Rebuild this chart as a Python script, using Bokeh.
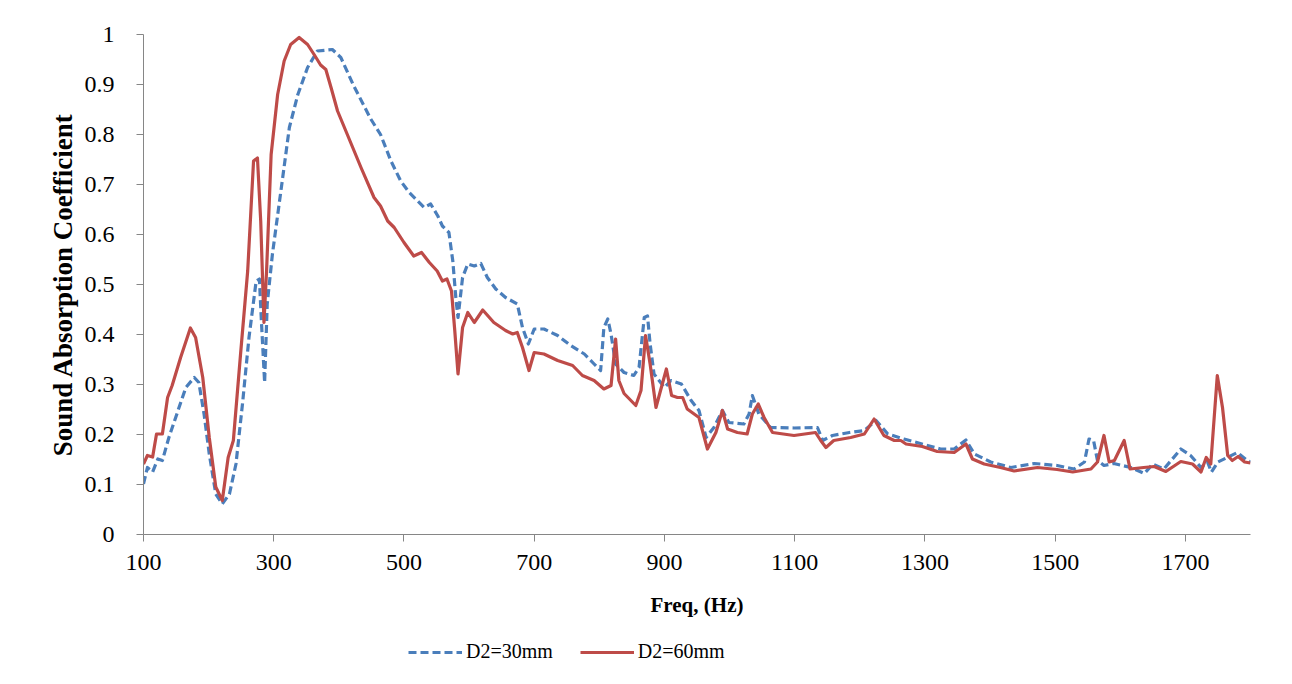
from bokeh.plotting import figure
from bokeh.layouts import column
from bokeh.models import Legend, LegendItem, FixedTicker, CustomJSTickFormatter, Range1d
from bokeh.embed import file_html
from bokeh.resources import INLINE

# ---- data ----
freq_30 = [100, 106, 114, 122, 129, 139, 152, 165, 178, 185,
           193, 201, 211, 221, 232, 242, 252, 262, 273, 278,
           281, 286, 290, 298, 311, 324, 337, 352, 367, 390,
           403, 423, 449, 464, 480, 495, 508, 521, 531, 541,
           552, 559, 569, 575, 580, 583, 590, 598, 608, 618,
           628, 641, 656, 674, 682, 691, 700, 715, 736, 756,
           777, 792, 802, 807, 813, 818, 825, 838, 853, 861,
           869, 874, 878, 884, 900, 910, 926, 941, 953, 964,
           976, 989, 999, 1022, 1030, 1035, 1045, 1063, 1099, 1135,
           1143, 1158, 1184, 1207, 1225, 1243, 1268, 1304, 1324, 1345,
           1363, 1376, 1401, 1432, 1468, 1503, 1529, 1545, 1552, 1559,
           1565, 1575, 1590, 1616, 1637, 1650, 1667, 1693, 1708, 1724,
           1734, 1740, 1750, 1780, 1795, 1800]
alpha_30 = [0.101, 0.134, 0.125, 0.151, 0.148, 0.194, 0.244, 0.294, 0.314, 0.304,
            0.241, 0.161, 0.081, 0.061, 0.081, 0.141, 0.261, 0.394, 0.507, 0.511,
            0.428, 0.304, 0.461, 0.561, 0.687, 0.814, 0.880, 0.934, 0.967, 0.970,
            0.954, 0.897, 0.831, 0.800, 0.747, 0.707, 0.684, 0.667, 0.654, 0.661,
            0.637, 0.617, 0.604, 0.547, 0.468, 0.434, 0.514, 0.541, 0.537, 0.542,
            0.514, 0.491, 0.474, 0.461, 0.414, 0.381, 0.411, 0.411, 0.398, 0.378,
            0.361, 0.341, 0.328, 0.414, 0.431, 0.401, 0.341, 0.324, 0.318, 0.334,
            0.434, 0.437, 0.381, 0.321, 0.294, 0.308, 0.301, 0.268, 0.248, 0.194,
            0.214, 0.248, 0.224, 0.221, 0.241, 0.278, 0.241, 0.214, 0.213, 0.214,
            0.188, 0.198, 0.204, 0.208, 0.228, 0.201, 0.191, 0.178, 0.171, 0.171,
            0.189, 0.161, 0.145, 0.134, 0.142, 0.138, 0.131, 0.145, 0.191, 0.188,
            0.148, 0.138, 0.142, 0.134, 0.122, 0.141, 0.131, 0.171, 0.158, 0.134,
            0.145, 0.125, 0.145, 0.164, 0.148, 0.145]

freq_60 = [100, 106, 114, 120, 129, 137, 144, 157, 172, 180,
           191, 201, 211, 221, 230, 238, 249, 260, 269, 275,
           280, 285, 289, 296, 306, 316, 326, 339, 352, 362,
           372, 380, 388, 398, 413, 434, 454, 464, 475, 485,
           500, 515, 527, 539, 551, 559, 566, 573, 578, 583,
           590, 598, 608, 621, 638, 656, 667, 674, 682, 692,
           700, 715, 736, 759, 774, 792, 807, 818, 825, 830,
           838, 856, 864, 871, 878, 887, 894, 903, 911, 920,
           928, 935, 953, 966, 979, 989, 997, 1012, 1027, 1035,
           1044, 1053, 1066, 1099, 1132, 1140, 1148, 1160, 1186, 1207,
           1222, 1237, 1253, 1263, 1271, 1296, 1319, 1345, 1363, 1373,
           1391, 1416, 1437, 1473, 1503, 1527, 1555, 1565, 1575, 1583,
           1591, 1606, 1615, 1636, 1652, 1670, 1693, 1711, 1724, 1732,
           1739, 1749, 1757, 1765, 1772, 1781, 1791, 1800]
alpha_60 = [0.141, 0.158, 0.155, 0.201, 0.201, 0.274, 0.298, 0.354, 0.413, 0.394,
            0.314, 0.194, 0.095, 0.068, 0.154, 0.188, 0.360, 0.527, 0.747, 0.753,
            0.627, 0.424, 0.527, 0.760, 0.880, 0.947, 0.980, 0.994, 0.980, 0.960,
            0.939, 0.930, 0.894, 0.847, 0.800, 0.734, 0.674, 0.657, 0.627, 0.614,
            0.584, 0.557, 0.564, 0.544, 0.527, 0.507, 0.511, 0.487, 0.408, 0.321,
            0.414, 0.444, 0.424, 0.449, 0.424, 0.408, 0.401, 0.404, 0.374, 0.328,
            0.364, 0.361, 0.348, 0.338, 0.318, 0.308, 0.291, 0.298, 0.391, 0.308,
            0.282, 0.258, 0.288, 0.398, 0.341, 0.254, 0.288, 0.331, 0.278, 0.274,
            0.274, 0.251, 0.234, 0.171, 0.204, 0.248, 0.211, 0.204, 0.201, 0.241,
            0.261, 0.234, 0.204, 0.198, 0.204, 0.188, 0.174, 0.188, 0.194, 0.201,
            0.231, 0.198, 0.188, 0.188, 0.181, 0.176, 0.166, 0.164, 0.181, 0.151,
            0.141, 0.134, 0.127, 0.134, 0.130, 0.125, 0.131, 0.145, 0.198, 0.145,
            0.148, 0.188, 0.131, 0.134, 0.136, 0.126, 0.146, 0.141, 0.125, 0.154,
            0.141, 0.318, 0.254, 0.158, 0.148, 0.156, 0.145, 0.143]

x_ticks = [100, 300, 500, 700, 900, 1100, 1300, 1500, 1700]
y_ticks = [0, 0.1, 0.2, 0.3, 0.4, 0.5, 0.6, 0.7, 0.8, 0.9, 1.0]
series_labels = ["D2=30mm", "D2=60mm"]
x_title = "Freq, (Hz)"
y_title = "Sound Absorption Coefficient"

BLUE = "#4a7ebb"
RED = "#be4b48"
AXIS = "#868686"
FONT = "Liberation Serif"
LW = 3.2
DASH = "8 4"

p = figure(width=1276, height=628, output_backend="svg", toolbar_location=None,
           x_range=Range1d(100, 1800), y_range=Range1d(0, 1),
           min_border_left=143, min_border_right=26, min_border_top=34,
           min_border_bottom=94)
p.outline_line_color = None
p.xgrid.visible = False
p.ygrid.visible = False
p.background_fill_color = "white"
p.border_fill_color = "white"

p.line(freq_30, alpha_30, line_color=BLUE, line_width=LW, line_dash=DASH, line_join="round")
p.line(freq_60, alpha_60, line_color=RED, line_width=LW, line_join="round")

for ax in (p.xaxis[0], p.yaxis[0]):
    ax.axis_line_color = AXIS
    ax.major_tick_line_color = AXIS
    ax.minor_tick_line_color = None
    ax.major_tick_out = 7
    ax.major_tick_in = 0
    ax.major_label_text_font = FONT
    ax.major_label_text_font_size = "24px"
    ax.major_label_text_color = "black"
    ax.axis_label_text_font = FONT
    ax.axis_label_text_font_style = "bold"
    ax.axis_label_text_color = "black"

p.xaxis[0].ticker = FixedTicker(ticks=x_ticks)
p.yaxis[0].ticker = FixedTicker(ticks=y_ticks)
p.yaxis[0].formatter = CustomJSTickFormatter(code="return Number(tick.toFixed(2)).toString();")
p.xaxis[0].major_label_standoff = 13
p.yaxis[0].major_label_standoff = 22
p.xaxis[0].axis_label = x_title
p.yaxis[0].axis_label = y_title
p.xaxis[0].axis_label_text_font_size = "21px"
p.yaxis[0].axis_label_text_font_size = "27px"
p.xaxis[0].axis_label_standoff = 20
p.yaxis[0].axis_label_standoff = 4

# legend strip below the chart (its frame is aligned with the chart's frame)
lg = figure(width=1276, height=40, output_backend="svg", toolbar_location=None,
            x_range=Range1d(0, 1), y_range=Range1d(0, 1),
            x_axis_location=None, y_axis_location=None,
            min_border_left=0, min_border_right=0, min_border_top=0, min_border_bottom=0)
lg.outline_line_color = None
lg.xgrid.visible = False
lg.ygrid.visible = False
l30 = lg.line([-5, -4], [-5, -4], line_color=BLUE, line_width=LW, line_dash=DASH)
l60 = lg.line([-5, -4], [-5, -4], line_color=RED, line_width=LW)
legend = Legend(items=[LegendItem(label=series_labels[0], renderers=[l30]),
                       LegendItem(label=series_labels[1], renderers=[l60])],
                orientation="horizontal", location=(265, 5),
                glyph_width=54, glyph_height=22, label_standoff=4, spacing=27,
                padding=0, margin=0, border_line_color=None,
                background_fill_alpha=0,
                label_text_font=FONT, label_text_font_size="20px",
                label_text_color="black")
lg.add_layout(legend, "center")

open("out.html", "w").write(file_html(column(p, lg, spacing=0), INLINE))
